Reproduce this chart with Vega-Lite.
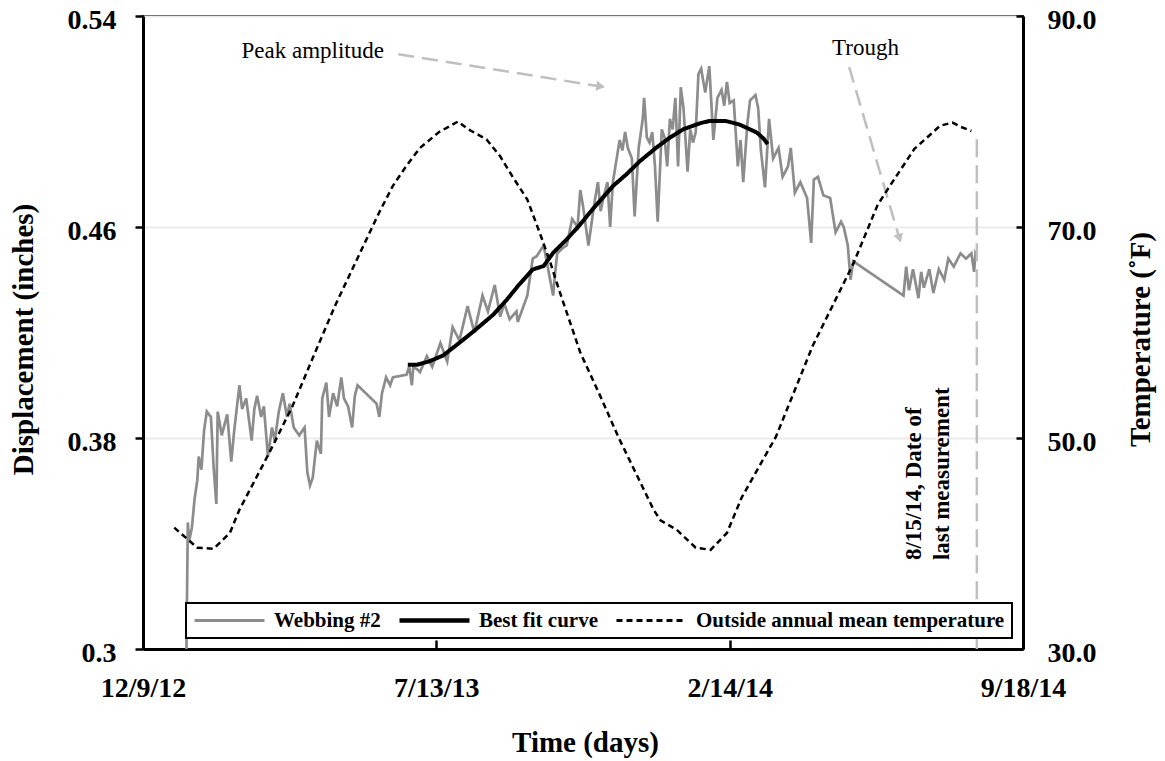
{
  "$schema": "https://vega.github.io/schema/vega-lite/v6.json",
  "width": 880,
  "height": 633,
  "autosize": "none",
  "padding": {"left": 143, "top": 16, "right": 142, "bottom": 112},
  "background": "white",
  "datasets": {
    "webbing": [
      {"date": "2013-01-10", "value": 0.300, "series": "Webbing #2"},
      {"date": "2013-01-11", "value": 0.348, "series": "Webbing #2"},
      {"date": "2013-01-12", "value": 0.341, "series": "Webbing #2"},
      {"date": "2013-01-14", "value": 0.346, "series": "Webbing #2"},
      {"date": "2013-01-16", "value": 0.357, "series": "Webbing #2"},
      {"date": "2013-01-18", "value": 0.364, "series": "Webbing #2"},
      {"date": "2013-01-19", "value": 0.373, "series": "Webbing #2"},
      {"date": "2013-01-21", "value": 0.368, "series": "Webbing #2"},
      {"date": "2013-01-23", "value": 0.383, "series": "Webbing #2"},
      {"date": "2013-01-25", "value": 0.390, "series": "Webbing #2"},
      {"date": "2013-01-28", "value": 0.388, "series": "Webbing #2"},
      {"date": "2013-01-30", "value": 0.369, "series": "Webbing #2"},
      {"date": "2013-02-01", "value": 0.355, "series": "Webbing #2"},
      {"date": "2013-02-02", "value": 0.390, "series": "Webbing #2"},
      {"date": "2013-02-05", "value": 0.381, "series": "Webbing #2"},
      {"date": "2013-02-09", "value": 0.389, "series": "Webbing #2"},
      {"date": "2013-02-12", "value": 0.371, "series": "Webbing #2"},
      {"date": "2013-02-14", "value": 0.382, "series": "Webbing #2"},
      {"date": "2013-02-18", "value": 0.400, "series": "Webbing #2"},
      {"date": "2013-02-20", "value": 0.391, "series": "Webbing #2"},
      {"date": "2013-02-23", "value": 0.395, "series": "Webbing #2"},
      {"date": "2013-02-27", "value": 0.379, "series": "Webbing #2"},
      {"date": "2013-03-01", "value": 0.391, "series": "Webbing #2"},
      {"date": "2013-03-03", "value": 0.396, "series": "Webbing #2"},
      {"date": "2013-03-06", "value": 0.388, "series": "Webbing #2"},
      {"date": "2013-03-08", "value": 0.392, "series": "Webbing #2"},
      {"date": "2013-03-11", "value": 0.373, "series": "Webbing #2"},
      {"date": "2013-03-14", "value": 0.384, "series": "Webbing #2"},
      {"date": "2013-03-16", "value": 0.379, "series": "Webbing #2"},
      {"date": "2013-03-19", "value": 0.390, "series": "Webbing #2"},
      {"date": "2013-03-22", "value": 0.397, "series": "Webbing #2"},
      {"date": "2013-03-25", "value": 0.388, "series": "Webbing #2"},
      {"date": "2013-03-27", "value": 0.393, "series": "Webbing #2"},
      {"date": "2013-03-30", "value": 0.384, "series": "Webbing #2"},
      {"date": "2013-04-03", "value": 0.381, "series": "Webbing #2"},
      {"date": "2013-04-07", "value": 0.384, "series": "Webbing #2"},
      {"date": "2013-04-09", "value": 0.367, "series": "Webbing #2"},
      {"date": "2013-04-11", "value": 0.362, "series": "Webbing #2"},
      {"date": "2013-04-13", "value": 0.365, "series": "Webbing #2"},
      {"date": "2013-04-16", "value": 0.379, "series": "Webbing #2"},
      {"date": "2013-04-19", "value": 0.374, "series": "Webbing #2"},
      {"date": "2013-04-20", "value": 0.395, "series": "Webbing #2"},
      {"date": "2013-04-23", "value": 0.401, "series": "Webbing #2"},
      {"date": "2013-04-25", "value": 0.388, "series": "Webbing #2"},
      {"date": "2013-04-28", "value": 0.397, "series": "Webbing #2"},
      {"date": "2013-05-01", "value": 0.392, "series": "Webbing #2"},
      {"date": "2013-05-04", "value": 0.403, "series": "Webbing #2"},
      {"date": "2013-05-06", "value": 0.395, "series": "Webbing #2"},
      {"date": "2013-05-09", "value": 0.392, "series": "Webbing #2"},
      {"date": "2013-05-12", "value": 0.384, "series": "Webbing #2"},
      {"date": "2013-05-14", "value": 0.396, "series": "Webbing #2"},
      {"date": "2013-05-16", "value": 0.400, "series": "Webbing #2"},
      {"date": "2013-05-30", "value": 0.393, "series": "Webbing #2"},
      {"date": "2013-06-01", "value": 0.388, "series": "Webbing #2"},
      {"date": "2013-06-03", "value": 0.397, "series": "Webbing #2"},
      {"date": "2013-06-06", "value": 0.403, "series": "Webbing #2"},
      {"date": "2013-06-09", "value": 0.400, "series": "Webbing #2"},
      {"date": "2013-06-11", "value": 0.403, "series": "Webbing #2"},
      {"date": "2013-06-21", "value": 0.404, "series": "Webbing #2"},
      {"date": "2013-06-23", "value": 0.407, "series": "Webbing #2"},
      {"date": "2013-06-25", "value": 0.400, "series": "Webbing #2"},
      {"date": "2013-06-26", "value": 0.407, "series": "Webbing #2"},
      {"date": "2013-06-29", "value": 0.406, "series": "Webbing #2"},
      {"date": "2013-07-01", "value": 0.405, "series": "Webbing #2"},
      {"date": "2013-07-06", "value": 0.411, "series": "Webbing #2"},
      {"date": "2013-07-10", "value": 0.407, "series": "Webbing #2"},
      {"date": "2013-07-16", "value": 0.416, "series": "Webbing #2"},
      {"date": "2013-07-21", "value": 0.409, "series": "Webbing #2"},
      {"date": "2013-07-25", "value": 0.422, "series": "Webbing #2"},
      {"date": "2013-07-30", "value": 0.417, "series": "Webbing #2"},
      {"date": "2013-08-05", "value": 0.430, "series": "Webbing #2"},
      {"date": "2013-08-10", "value": 0.420, "series": "Webbing #2"},
      {"date": "2013-08-16", "value": 0.434, "series": "Webbing #2"},
      {"date": "2013-08-20", "value": 0.428, "series": "Webbing #2"},
      {"date": "2013-08-25", "value": 0.438, "series": "Webbing #2"},
      {"date": "2013-08-29", "value": 0.426, "series": "Webbing #2"},
      {"date": "2013-09-01", "value": 0.431, "series": "Webbing #2"},
      {"date": "2013-09-05", "value": 0.425, "series": "Webbing #2"},
      {"date": "2013-09-10", "value": 0.428, "series": "Webbing #2"},
      {"date": "2013-09-11", "value": 0.424, "series": "Webbing #2"},
      {"date": "2013-09-18", "value": 0.434, "series": "Webbing #2"},
      {"date": "2013-09-22", "value": 0.448, "series": "Webbing #2"},
      {"date": "2013-09-25", "value": 0.449, "series": "Webbing #2"},
      {"date": "2013-09-30", "value": 0.453, "series": "Webbing #2"},
      {"date": "2013-10-03", "value": 0.445, "series": "Webbing #2"},
      {"date": "2013-10-07", "value": 0.434, "series": "Webbing #2"},
      {"date": "2013-10-08", "value": 0.440, "series": "Webbing #2"},
      {"date": "2013-10-10", "value": 0.450, "series": "Webbing #2"},
      {"date": "2013-10-14", "value": 0.452, "series": "Webbing #2"},
      {"date": "2013-10-17", "value": 0.453, "series": "Webbing #2"},
      {"date": "2013-10-21", "value": 0.463, "series": "Webbing #2"},
      {"date": "2013-10-25", "value": 0.460, "series": "Webbing #2"},
      {"date": "2013-10-27", "value": 0.474, "series": "Webbing #2"},
      {"date": "2013-10-29", "value": 0.468, "series": "Webbing #2"},
      {"date": "2013-11-02", "value": 0.453, "series": "Webbing #2"},
      {"date": "2013-11-05", "value": 0.464, "series": "Webbing #2"},
      {"date": "2013-11-07", "value": 0.471, "series": "Webbing #2"},
      {"date": "2013-11-09", "value": 0.477, "series": "Webbing #2"},
      {"date": "2013-11-11", "value": 0.466, "series": "Webbing #2"},
      {"date": "2013-11-13", "value": 0.471, "series": "Webbing #2"},
      {"date": "2013-11-16", "value": 0.477, "series": "Webbing #2"},
      {"date": "2013-11-18", "value": 0.460, "series": "Webbing #2"},
      {"date": "2013-11-20", "value": 0.477, "series": "Webbing #2"},
      {"date": "2013-11-25", "value": 0.493, "series": "Webbing #2"},
      {"date": "2013-11-27", "value": 0.489, "series": "Webbing #2"},
      {"date": "2013-11-29", "value": 0.496, "series": "Webbing #2"},
      {"date": "2013-12-01", "value": 0.490, "series": "Webbing #2"},
      {"date": "2013-12-04", "value": 0.486, "series": "Webbing #2"},
      {"date": "2013-12-06", "value": 0.464, "series": "Webbing #2"},
      {"date": "2013-12-09", "value": 0.490, "series": "Webbing #2"},
      {"date": "2013-12-12", "value": 0.501, "series": "Webbing #2"},
      {"date": "2013-12-13", "value": 0.509, "series": "Webbing #2"},
      {"date": "2013-12-15", "value": 0.494, "series": "Webbing #2"},
      {"date": "2013-12-17", "value": 0.492, "series": "Webbing #2"},
      {"date": "2013-12-19", "value": 0.496, "series": "Webbing #2"},
      {"date": "2013-12-21", "value": 0.483, "series": "Webbing #2"},
      {"date": "2013-12-23", "value": 0.462, "series": "Webbing #2"},
      {"date": "2013-12-26", "value": 0.497, "series": "Webbing #2"},
      {"date": "2013-12-28", "value": 0.494, "series": "Webbing #2"},
      {"date": "2013-12-30", "value": 0.483, "series": "Webbing #2"},
      {"date": "2014-01-01", "value": 0.501, "series": "Webbing #2"},
      {"date": "2014-01-03", "value": 0.497, "series": "Webbing #2"},
      {"date": "2014-01-05", "value": 0.509, "series": "Webbing #2"},
      {"date": "2014-01-07", "value": 0.483, "series": "Webbing #2"},
      {"date": "2014-01-09", "value": 0.513, "series": "Webbing #2"},
      {"date": "2014-01-11", "value": 0.505, "series": "Webbing #2"},
      {"date": "2014-01-14", "value": 0.481, "series": "Webbing #2"},
      {"date": "2014-01-16", "value": 0.497, "series": "Webbing #2"},
      {"date": "2014-01-18", "value": 0.492, "series": "Webbing #2"},
      {"date": "2014-01-20", "value": 0.496, "series": "Webbing #2"},
      {"date": "2014-01-22", "value": 0.518, "series": "Webbing #2"},
      {"date": "2014-01-24", "value": 0.520, "series": "Webbing #2"},
      {"date": "2014-01-27", "value": 0.511, "series": "Webbing #2"},
      {"date": "2014-01-30", "value": 0.521, "series": "Webbing #2"},
      {"date": "2014-02-02", "value": 0.493, "series": "Webbing #2"},
      {"date": "2014-02-05", "value": 0.509, "series": "Webbing #2"},
      {"date": "2014-02-08", "value": 0.512, "series": "Webbing #2"},
      {"date": "2014-02-10", "value": 0.506, "series": "Webbing #2"},
      {"date": "2014-02-12", "value": 0.515, "series": "Webbing #2"},
      {"date": "2014-02-14", "value": 0.507, "series": "Webbing #2"},
      {"date": "2014-02-17", "value": 0.508, "series": "Webbing #2"},
      {"date": "2014-02-20", "value": 0.483, "series": "Webbing #2"},
      {"date": "2014-02-22", "value": 0.493, "series": "Webbing #2"},
      {"date": "2014-02-24", "value": 0.477, "series": "Webbing #2"},
      {"date": "2014-02-27", "value": 0.499, "series": "Webbing #2"},
      {"date": "2014-03-01", "value": 0.508, "series": "Webbing #2"},
      {"date": "2014-03-05", "value": 0.510, "series": "Webbing #2"},
      {"date": "2014-03-07", "value": 0.505, "series": "Webbing #2"},
      {"date": "2014-03-09", "value": 0.489, "series": "Webbing #2"},
      {"date": "2014-03-12", "value": 0.475, "series": "Webbing #2"},
      {"date": "2014-03-15", "value": 0.501, "series": "Webbing #2"},
      {"date": "2014-03-18", "value": 0.486, "series": "Webbing #2"},
      {"date": "2014-03-22", "value": 0.490, "series": "Webbing #2"},
      {"date": "2014-03-25", "value": 0.479, "series": "Webbing #2"},
      {"date": "2014-03-29", "value": 0.483, "series": "Webbing #2"},
      {"date": "2014-03-31", "value": 0.490, "series": "Webbing #2"},
      {"date": "2014-04-03", "value": 0.473, "series": "Webbing #2"},
      {"date": "2014-04-07", "value": 0.477, "series": "Webbing #2"},
      {"date": "2014-04-12", "value": 0.471, "series": "Webbing #2"},
      {"date": "2014-04-15", "value": 0.454, "series": "Webbing #2"},
      {"date": "2014-04-17", "value": 0.478, "series": "Webbing #2"},
      {"date": "2014-04-20", "value": 0.479, "series": "Webbing #2"},
      {"date": "2014-04-24", "value": 0.472, "series": "Webbing #2"},
      {"date": "2014-04-29", "value": 0.471, "series": "Webbing #2"},
      {"date": "2014-05-03", "value": 0.458, "series": "Webbing #2"},
      {"date": "2014-05-07", "value": 0.462, "series": "Webbing #2"},
      {"date": "2014-05-09", "value": 0.460, "series": "Webbing #2"},
      {"date": "2014-05-12", "value": 0.453, "series": "Webbing #2"},
      {"date": "2014-05-14", "value": 0.440, "series": "Webbing #2"},
      {"date": "2014-05-16", "value": 0.447, "series": "Webbing #2"},
      {"date": "2014-06-22", "value": 0.434, "series": "Webbing #2"},
      {"date": "2014-06-24", "value": 0.445, "series": "Webbing #2"},
      {"date": "2014-06-26", "value": 0.436, "series": "Webbing #2"},
      {"date": "2014-06-29", "value": 0.444, "series": "Webbing #2"},
      {"date": "2014-07-03", "value": 0.433, "series": "Webbing #2"},
      {"date": "2014-07-05", "value": 0.443, "series": "Webbing #2"},
      {"date": "2014-07-07", "value": 0.437, "series": "Webbing #2"},
      {"date": "2014-07-11", "value": 0.444, "series": "Webbing #2"},
      {"date": "2014-07-14", "value": 0.435, "series": "Webbing #2"},
      {"date": "2014-07-18", "value": 0.444, "series": "Webbing #2"},
      {"date": "2014-07-22", "value": 0.440, "series": "Webbing #2"},
      {"date": "2014-07-25", "value": 0.448, "series": "Webbing #2"},
      {"date": "2014-07-29", "value": 0.445, "series": "Webbing #2"},
      {"date": "2014-08-03", "value": 0.450, "series": "Webbing #2"},
      {"date": "2014-08-07", "value": 0.448, "series": "Webbing #2"},
      {"date": "2014-08-11", "value": 0.450, "series": "Webbing #2"},
      {"date": "2014-08-13", "value": 0.443, "series": "Webbing #2"},
      {"date": "2014-08-14", "value": 0.450, "series": "Webbing #2"},
      {"date": "2014-08-15", "value": 0.449, "series": "Webbing #2"}
    ],
    "fit": [
      {"date": "2013-06-22", "value": 0.4078, "series": "Best fit curve"},
      {"date": "2013-06-29", "value": 0.4078, "series": "Best fit curve"},
      {"date": "2013-07-08", "value": 0.4091, "series": "Best fit curve"},
      {"date": "2013-07-18", "value": 0.4113, "series": "Best fit curve"},
      {"date": "2013-07-30", "value": 0.4161, "series": "Best fit curve"},
      {"date": "2013-08-11", "value": 0.4211, "series": "Best fit curve"},
      {"date": "2013-08-24", "value": 0.4268, "series": "Best fit curve"},
      {"date": "2013-09-03", "value": 0.4325, "series": "Best fit curve"},
      {"date": "2013-09-12", "value": 0.4382, "series": "Best fit curve"},
      {"date": "2013-09-22", "value": 0.4439, "series": "Best fit curve"},
      {"date": "2013-09-30", "value": 0.4452, "series": "Best fit curve"},
      {"date": "2013-10-07", "value": 0.4502, "series": "Best fit curve"},
      {"date": "2013-10-17", "value": 0.4553, "series": "Best fit curve"},
      {"date": "2013-10-27", "value": 0.4610, "series": "Best fit curve"},
      {"date": "2013-11-05", "value": 0.4667, "series": "Best fit curve"},
      {"date": "2013-11-20", "value": 0.4755, "series": "Best fit curve"},
      {"date": "2013-11-30", "value": 0.4800, "series": "Best fit curve"},
      {"date": "2013-12-10", "value": 0.4850, "series": "Best fit curve"},
      {"date": "2013-12-22", "value": 0.4901, "series": "Best fit curve"},
      {"date": "2014-01-01", "value": 0.4939, "series": "Best fit curve"},
      {"date": "2014-01-11", "value": 0.4971, "series": "Best fit curve"},
      {"date": "2014-01-23", "value": 0.4993, "series": "Best fit curve"},
      {"date": "2014-01-30", "value": 0.5002, "series": "Best fit curve"},
      {"date": "2014-02-11", "value": 0.5002, "series": "Best fit curve"},
      {"date": "2014-02-21", "value": 0.4989, "series": "Best fit curve"},
      {"date": "2014-03-01", "value": 0.4970, "series": "Best fit curve"},
      {"date": "2014-03-06", "value": 0.4958, "series": "Best fit curve"},
      {"date": "2014-03-11", "value": 0.4935, "series": "Best fit curve"},
      {"date": "2014-03-14", "value": 0.4914, "series": "Best fit curve"}
    ],
    "temp": [
      {"date": "2013-01-01", "temp": 41.5, "series": "Outside annual mean temperature"},
      {"date": "2013-01-18", "temp": 39.6, "series": "Outside annual mean temperature"},
      {"date": "2013-01-30", "temp": 39.5, "series": "Outside annual mean temperature"},
      {"date": "2013-02-11", "temp": 41.0, "series": "Outside annual mean temperature"},
      {"date": "2013-02-18", "temp": 43.2, "series": "Outside annual mean temperature"},
      {"date": "2013-03-12", "temp": 48.6, "series": "Outside annual mean temperature"},
      {"date": "2013-03-29", "temp": 53.0, "series": "Outside annual mean temperature"},
      {"date": "2013-04-18", "temp": 59.1, "series": "Outside annual mean temperature"},
      {"date": "2013-04-30", "temp": 62.7, "series": "Outside annual mean temperature"},
      {"date": "2013-06-01", "temp": 71.4, "series": "Outside annual mean temperature"},
      {"date": "2013-06-11", "temp": 73.9, "series": "Outside annual mean temperature"},
      {"date": "2013-06-21", "temp": 75.8, "series": "Outside annual mean temperature"},
      {"date": "2013-07-01", "temp": 77.5, "series": "Outside annual mean temperature"},
      {"date": "2013-07-15", "temp": 79.0, "series": "Outside annual mean temperature"},
      {"date": "2013-07-29", "temp": 80.0, "series": "Outside annual mean temperature"},
      {"date": "2013-08-05", "temp": 79.3, "series": "Outside annual mean temperature"},
      {"date": "2013-08-19", "temp": 78.3, "series": "Outside annual mean temperature"},
      {"date": "2013-08-29", "temp": 76.7, "series": "Outside annual mean temperature"},
      {"date": "2013-09-07", "temp": 74.8, "series": "Outside annual mean temperature"},
      {"date": "2013-09-18", "temp": 72.6, "series": "Outside annual mean temperature"},
      {"date": "2013-09-27", "temp": 69.5, "series": "Outside annual mean temperature"},
      {"date": "2013-10-05", "temp": 66.6, "series": "Outside annual mean temperature"},
      {"date": "2013-10-12", "temp": 63.8, "series": "Outside annual mean temperature"},
      {"date": "2013-10-27", "temp": 58.1, "series": "Outside annual mean temperature"},
      {"date": "2013-11-11", "temp": 53.9, "series": "Outside annual mean temperature"},
      {"date": "2013-11-24", "temp": 50.1, "series": "Outside annual mean temperature"},
      {"date": "2013-12-20", "temp": 43.2, "series": "Outside annual mean temperature"},
      {"date": "2013-12-25", "temp": 42.2, "series": "Outside annual mean temperature"},
      {"date": "2014-01-06", "temp": 41.3, "series": "Outside annual mean temperature"},
      {"date": "2014-01-20", "temp": 39.6, "series": "Outside annual mean temperature"},
      {"date": "2014-01-31", "temp": 39.4, "series": "Outside annual mean temperature"},
      {"date": "2014-02-12", "temp": 41.0, "series": "Outside annual mean temperature"},
      {"date": "2014-02-23", "temp": 44.4, "series": "Outside annual mean temperature"},
      {"date": "2014-03-20", "temp": 50.1, "series": "Outside annual mean temperature"},
      {"date": "2014-04-06", "temp": 55.5, "series": "Outside annual mean temperature"},
      {"date": "2014-04-16", "temp": 58.7, "series": "Outside annual mean temperature"},
      {"date": "2014-05-16", "temp": 66.5, "series": "Outside annual mean temperature"},
      {"date": "2014-06-03", "temp": 72.1, "series": "Outside annual mean temperature"},
      {"date": "2014-06-12", "temp": 73.9, "series": "Outside annual mean temperature"},
      {"date": "2014-06-30", "temp": 77.4, "series": "Outside annual mean temperature"},
      {"date": "2014-07-19", "temp": 79.6, "series": "Outside annual mean temperature"},
      {"date": "2014-07-28", "temp": 79.9, "series": "Outside annual mean temperature"},
      {"date": "2014-08-03", "temp": 79.5, "series": "Outside annual mean temperature"},
      {"date": "2014-08-11", "temp": 79.1, "series": "Outside annual mean temperature"}
    ],
    "arrows": [
      {"arrow": "peak", "date": "2013-06-15", "value": 0.5255},
      {"arrow": "peak", "date": "2013-11-11", "value": 0.5133},
      {"arrow": "trough", "date": "2014-05-13", "value": 0.5206},
      {"arrow": "trough", "date": "2014-06-19", "value": 0.4557}
    ]
  },
  "layer": [
    {
      "layer": [
        {
          "data": {"name": "webbing"},
          "mark": {"type": "line", "strokeWidth": 2.7, "interpolate": "linear"},
          "encoding": {
            "x": {
              "field": "date", "type": "temporal",
              "scale": {"type": "utc", "nice": false, "domain": [{"year": 2012, "month": 12, "date": 9, "utc": true}, {"year": 2014, "month": 9, "date": 18, "utc": true}]},
              "axis": {
                "title": "Time (days)",
                "values": [{"year": 2012, "month": 12, "date": 9, "utc": true}, {"year": 2013, "month": 7, "date": 13, "utc": true}, {"year": 2014, "month": 2, "date": 14, "utc": true}, {"year": 2014, "month": 9, "date": 18, "utc": true}],
                "labelExpr": "utcFormat(datum.value, '%-m/%-d/%y')",
                "tickSize": -9, "labelPadding": 34, "labelFlush": false, "labelOverlap": false, "labelBound": false,
                "grid": false,
                "titleX": 442, "titleY": 102, "titleBaseline": "alphabetic", "titleAlign": "center"
              }
            },
            "y": {
              "field": "value", "type": "quantitative",
              "scale": {"domain": [0.3, 0.54], "nice": false, "zero": false},
              "axis": {
                "title": "Displacement (inches)", "orient": "left",
                "values": [0.3, 0.38, 0.46, 0.54], "format": ".2~f",
                "tickSize": 8, "labelPadding": 19, "labelOffset": 4,
                "grid": true, "gridColor": "#ececec", "gridWidth": 2,
                "titleX": -111, "titleY": 323, "titleBaseline": "alphabetic", "titleAngle": 270, "titleAlign": "center"
              }
            },
            "color": {
              "field": "series", "type": "nominal",
              "scale": {"domain": ["Webbing #2", "Best fit curve", "Outside annual mean temperature"], "range": ["#8c8c8c", "#000000", "#000000"]},
              "legend": {
                "title": null, "orient": "none", "legendX": 43, "legendY": 587, "direction": "horizontal",
                "symbolType": "stroke", "symbolSize": 4900, "symbolStrokeWidth": 3, "clipHeight": 21,
                "labelFont": "Liberation Serif", "labelFontSize": 21, "labelFontWeight": "bold", "labelColor": "black",
                "labelLimit": 500, "labelOffset": 8, "columnPadding": 17, "padding": 7,
                "fillColor": "white", "strokeColor": "black",
                "encode": {
                  "legend": {"update": {"strokeWidth": {"value": 2}}},
                  "symbols": {"update": {"strokeWidth": {"signal": "(datum.value === 'Best fit curve' ? 4.5 : 3)"}}}
                }
              }
            },
            "strokeDash": {
              "field": "series", "type": "nominal",
              "scale": {"domain": ["Webbing #2", "Best fit curve", "Outside annual mean temperature"], "range": [[1, 0], [1, 0], [6, 4]]}
            }
          }
        },
        {
          "data": {"name": "fit"},
          "mark": {"type": "line", "strokeWidth": 4, "interpolate": "linear"},
          "encoding": {
            "x": {"field": "date", "type": "temporal"},
            "y": {"field": "value", "type": "quantitative"},
            "color": {
              "field": "series", "type": "nominal",
              "scale": {"domain": ["Webbing #2", "Best fit curve", "Outside annual mean temperature"], "range": ["#8c8c8c", "#000000", "#000000"]}
            },
            "strokeDash": {
              "field": "series", "type": "nominal",
              "scale": {"domain": ["Webbing #2", "Best fit curve", "Outside annual mean temperature"], "range": [[1, 0], [1, 0], [6, 4]]}
            }
          }
        },
        {
          "data": {"values": [{"date": "2014-08-15", "value": 0.4933, "value2": 0.3}]},
          "mark": {"type": "rule", "color": "#bfbfbf", "strokeWidth": 2.5, "strokeDash": [18, 8]},
          "encoding": {
            "x": {"field": "date", "type": "temporal"},
            "y": {"field": "value", "type": "quantitative"},
            "y2": {"field": "value2"}
          }
        },
        {
          "data": {"name": "arrows"},
          "mark": {"type": "line", "color": "#bfbfbf", "strokeWidth": 2.5, "strokeDash": [16, 8]},
          "encoding": {
            "x": {"field": "date", "type": "temporal"},
            "y": {"field": "value", "type": "quantitative"},
            "detail": {"field": "arrow", "type": "nominal"}
          }
        },
        {
          "data": {"values": [{"date": "2013-11-11", "value": 0.5133}]},
          "mark": {"type": "point", "shape": "triangle-right", "filled": true, "color": "#bfbfbf", "opacity": 1, "size": 100, "angle": 9},
          "encoding": {
            "x": {"field": "date", "type": "temporal"},
            "y": {"field": "value", "type": "quantitative"}
          }
        },
        {
          "data": {"values": [{"date": "2014-06-19", "value": 0.4557}]},
          "mark": {"type": "point", "shape": "triangle-right", "filled": true, "color": "#bfbfbf", "opacity": 1, "size": 100, "angle": 73.5},
          "encoding": {
            "x": {"field": "date", "type": "temporal"},
            "y": {"field": "value", "type": "quantitative"}
          }
        },
        {
          "data": {"values": [
            {"date": "2013-04-13", "value": 0.5240, "label": "Peak amplitude"},
            {"date": "2014-05-25", "value": 0.5251, "label": "Trough"}
          ]},
          "mark": {"type": "text", "font": "Liberation Serif", "fontSize": 23, "color": "black", "align": "center", "baseline": "alphabetic"},
          "encoding": {
            "x": {"field": "date", "type": "temporal"},
            "y": {"field": "value", "type": "quantitative"},
            "text": {"field": "label"}
          }
        },
        {
          "data": {"values": [{"date": "2014-06-30", "value": 0.3337, "label": "8/15/14, Date of\nlast measurement"}]},
          "mark": {"type": "text", "font": "Liberation Serif", "fontSize": 23, "fontWeight": "bold", "color": "black", "align": "left", "baseline": "middle", "angle": 270, "lineBreak": "\n", "lineHeight": 28},
          "encoding": {
            "x": {"field": "date", "type": "temporal"},
            "y": {"field": "value", "type": "quantitative"},
            "text": {"field": "label"}
          }
        }
      ]
    },
    {
      "data": {"name": "temp"},
      "mark": {"type": "line", "strokeWidth": 2.5, "interpolate": "linear"},
      "encoding": {
        "x": {"field": "date", "type": "temporal"},
        "y": {
          "field": "temp", "type": "quantitative",
          "scale": {"domain": [30, 90], "nice": false, "zero": false},
          "axis": {
            "title": "Temperature (˚F)", "orient": "right",
            "values": [30, 50, 70, 90], "format": ".1f",
            "tickSize": -7, "labelPadding": 31, "labelOffset": 4,
            "grid": false,
            "titleX": 126, "titleY": 323, "titleBaseline": "alphabetic", "titleAngle": 270, "titleAlign": "center"
          }
        },
        "color": {
          "field": "series", "type": "nominal",
          "scale": {"domain": ["Webbing #2", "Best fit curve", "Outside annual mean temperature"], "range": ["#8c8c8c", "#000000", "#000000"]}
        },
        "strokeDash": {
          "field": "series", "type": "nominal",
          "scale": {"domain": ["Webbing #2", "Best fit curve", "Outside annual mean temperature"], "range": [[1, 0], [1, 0], [6, 4]]}
        }
      }
    }
  ],
  "resolve": {"scale": {"y": "independent"}},
  "config": {
    "font": "Liberation Serif",
    "view": {"stroke": "black", "strokeWidth": 2},
    "axis": {
      "labelFont": "Liberation Serif", "labelFontSize": 28, "labelFontWeight": "bold", "labelColor": "black",
      "titleFont": "Liberation Serif", "titleFontSize": 29, "titleFontWeight": "bold", "titleColor": "black",
      "domainColor": "black", "domainWidth": 3, "tickColor": "black", "tickWidth": 2.5
    }
  }
}
